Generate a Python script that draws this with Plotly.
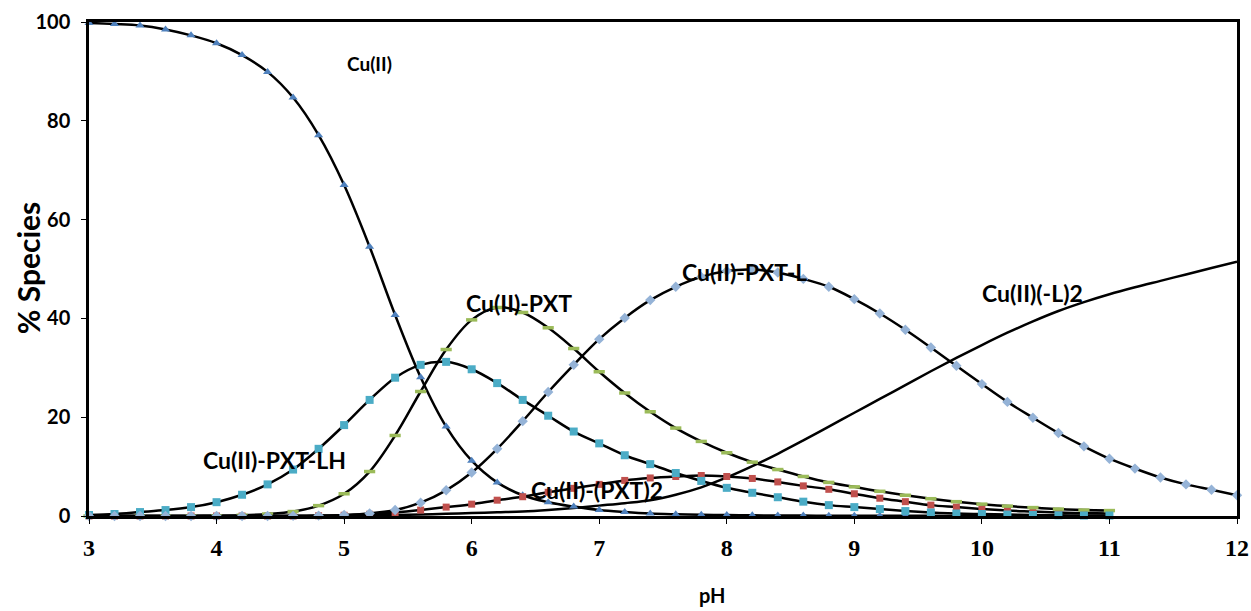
import plotly.graph_objects as go

ph = [3.0, 3.2, 3.4, 3.6, 3.8, 4.0, 4.2, 4.4, 4.6, 4.8, 5.0, 5.2, 5.4, 5.6, 5.8, 6.0, 6.2, 6.4, 6.6, 6.8,
      7.0, 7.2, 7.4, 7.6, 7.8, 8.0, 8.2, 8.4, 8.6, 8.8, 9.0, 9.2, 9.4, 9.6, 9.8, 10.0, 10.2, 10.4, 10.6, 10.8, 11.0]
ph_long = ph + [11.2, 11.4, 11.6, 11.8, 12.0]

cu = [99.8, 99.6, 99.3, 98.5, 97.3, 95.7, 93.3, 89.9, 84.7, 77.1, 67.0, 54.5, 40.7, 28.1, 18.1, 11.2, 6.8, 4.2, 2.8, 1.9,
      1.2, 0.8, 0.5, 0.35, 0.25, 0.18, 0.13, 0.1, 0.08, 0.06, 0.05, 0.04, 0.03, 0.03, 0.02, 0.02, 0.02, 0.01, 0.01, 0.01, 0.01]
cu_pxt2 = [0, 0, 0, 0, 0, 0, 0, 0, 0, 0.05, 0.15, 0.35, 0.7, 1.2, 1.8, 2.4, 3.2, 3.9, 4.8, 5.6,
           6.4, 7.2, 7.7, 8.0, 8.2, 8.0, 7.6, 6.9, 6.1, 5.4, 4.5, 3.6, 2.9, 2.2, 1.8, 1.4, 1.1, 0.9, 0.7, 0.6, 0.5]
cu_pxt = [0, 0, 0, 0.01, 0.02, 0.05, 0.15, 0.4, 0.9, 2.1, 4.5, 9.0, 16.3, 25.2, 33.7, 39.7, 42.2, 41.2, 38.1, 33.9,
          29.2, 24.9, 21.1, 17.8, 15.1, 12.8, 10.9, 9.4, 8.0, 6.8, 5.9, 5.0, 4.2, 3.5, 2.9, 2.4, 2.0, 1.7, 1.4, 1.2, 1.1]
cu_pxt_lh = [0.2, 0.4, 0.8, 1.2, 1.8, 2.8, 4.3, 6.4, 9.4, 13.6, 18.4, 23.5, 28.0, 30.6, 31.2, 29.7, 26.9, 23.5, 20.3, 17.1,
             14.7, 12.3, 10.5, 8.7, 7.1, 5.7, 4.7, 3.8, 2.9, 2.2, 1.8, 1.4, 1.0, 0.7, 0.5, 0.4, 0.3, 0.2, 0.15, 0.1, 0.1]
cu_pxt_l = [0, 0, 0, 0, 0, 0, 0, 0, 0.03, 0.08, 0.2, 0.5, 1.2, 2.7, 5.2, 8.8, 13.6, 19.2, 25.1, 30.6,
            35.8, 40.1, 43.7, 46.4, 48.4, 49.6, 49.9, 49.3, 48.0, 46.4, 43.9, 41.0, 37.7, 34.1, 30.4, 26.7, 23.1, 19.9, 16.8, 14.1, 11.6,
            9.6, 7.8, 6.4, 5.3, 4.2]
cu_l2 = [0, 0, 0, 0, 0, 0, 0, 0, 0, 0, 0.05, 0.1, 0.2, 0.3, 0.45, 0.6, 0.75, 0.9, 1.2, 1.6,
         2.1, 2.6, 3.2, 4.3, 5.8, 7.8, 10.1, 12.6, 15.3, 18.1, 20.9, 23.7, 26.5, 29.3, 32.0, 34.6, 37.1, 39.4, 41.5, 43.3, 44.9,
         46.3, 47.6, 48.9, 50.2, 51.5]

x_ticks = [3, 4, 5, 6, 7, 8, 9, 10, 11, 12]
y_ticks = [0, 20, 40, 60, 80, 100]

labels = ["Cu(II)", "Cu(II)-PXT", "Cu(II)-PXT-L", "Cu(II)(-L)2", "Cu(II)-PXT-LH", "Cu(II)-(PXT)2"]
label_x = [5.20, 6.37, 8.135, 10.40, 4.455, 6.98]
label_y = [91.7, 43.1, 49.4, 45.1, 11.3, 5.3]
label_size = [19, 23, 23, 23, 23, 23]

fig = go.Figure()
LW = 2.5
fig.add_trace(go.Scatter(x=ph_long, y=cu_l2, mode="lines", line=dict(color="black", width=LW, shape="spline"),
                         cliponaxis=False, showlegend=False))
fig.add_trace(go.Scatter(x=ph, y=cu, mode="lines+markers", line=dict(color="black", width=LW, shape="spline"),
                         marker=dict(symbol="triangle-up", size=8, color="#4F81BD"), cliponaxis=False, showlegend=False))
fig.add_trace(go.Scatter(x=ph, y=cu_pxt2, mode="lines+markers", line=dict(color="black", width=LW, shape="spline"),
                         marker=dict(symbol="square", size=7, color="#C0504D"), cliponaxis=False, showlegend=False))
fig.add_trace(go.Scatter(x=ph, y=cu_pxt, mode="lines+markers", line=dict(color="black", width=LW, shape="spline"),
                         marker=dict(symbol="line-ew", size=8, color="#9BBB59", line=dict(color="#9BBB59", width=3.5)),
                         cliponaxis=False, showlegend=False))
fig.add_trace(go.Scatter(x=ph, y=cu_pxt_lh, mode="lines+markers", line=dict(color="black", width=LW, shape="spline"),
                         marker=dict(symbol="square", size=8, color="#4BACC6"), cliponaxis=False, showlegend=False))
fig.add_trace(go.Scatter(x=ph_long, y=cu_pxt_l, mode="lines+markers", line=dict(color="black", width=LW, shape="spline"),
                         marker=dict(symbol="diamond", size=8, color="#95B3D7"), cliponaxis=False, showlegend=False))

for t, lx, ly, s in zip(labels, label_x, label_y, label_size):
    fig.add_annotation(x=lx, y=ly, text="<b>%s</b>" % t, showarrow=False, xanchor="center", yanchor="middle",
                       font=dict(family="Lato", size=s, color="black"))

fig.add_annotation(x=0.543, y=-0.16, xref="paper", yref="paper", text="<b>pH</b>", showarrow=False,
                   xanchor="center", yanchor="middle", font=dict(family="Lato", size=20, color="black"))
fig.add_annotation(x=-0.053, y=0.502, xref="paper", yref="paper", text="<b>% Species</b>", showarrow=False,
                   textangle=-90, xanchor="center", yanchor="middle", font=dict(family="Lato", size=30, color="black"))

fig.update_xaxes(range=[3, 12], tickvals=x_ticks, ticktext=["<b>%d</b>" % v for v in x_ticks], automargin=False,
                 showgrid=False, zeroline=False, showline=True, linecolor="black", linewidth=2.5, mirror=True,
                 ticks="outside", ticklen=5, tickwidth=1, tickcolor="black", ticklabelstandoff=3,
                 tickfont=dict(family="Liberation Serif", size=24, color="black"))
fig.update_yaxes(range=[0, 100], tickvals=y_ticks, ticktext=["<b>%d</b>" % v for v in y_ticks], automargin=False,
                 showgrid=False, zeroline=False, showline=True,
                 linecolor="black", linewidth=2.5, mirror=True, ticks="outside", ticklen=5, tickwidth=1, tickcolor="black",
                 ticklabelstandoff=7,
                 tickfont=dict(family="Lato", size=20, color="black"))

fig.update_layout(width=1251, height=611, margin=dict(l=89, r=14, t=22, b=95),
                  plot_bgcolor="white", paper_bgcolor="white")

# remove the default 8px page margin so the figure fills the window exactly
fig.write_html("out.html", config={"displayModeBar": False},
               post_script="document.body.style.margin='0';document.body.style.overflow='hidden';")
